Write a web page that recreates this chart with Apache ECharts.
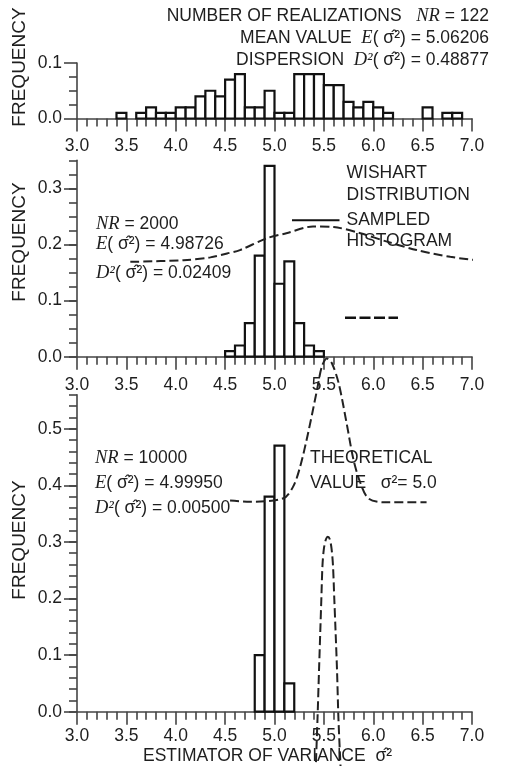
<!DOCTYPE html>
<html>
<head>
<meta charset="utf-8">
<script src="https://cdn.jsdelivr.net/npm/echarts@6/dist/echarts.min.js"></script>
<style>
  html, body { margin: 0; padding: 0; background: #fff; }
  #chart { width: 520px; height: 766px; }
</style>
</head>
<body>
<div id="chart"></div>
<script>
// histogram bins (left edge of each 0.1 wide bin) and frequencies
const binWidth = 0.1
const topBins = [3.4, 3.5, 3.6, 3.7, 3.8, 3.9, 4.0, 4.1, 4.2, 4.3, 4.4, 4.5, 4.6, 4.7, 4.8, 4.9, 5.0, 5.1,
  5.2, 5.3, 5.4, 5.5, 5.6, 5.7, 5.8, 5.9, 6.0, 6.1, 6.2, 6.3, 6.4, 6.5, 6.6, 6.7, 6.8]
const topFreq = [0.01, 0, 0.01, 0.02, 0.01, 0.01, 0.02, 0.02, 0.04, 0.05, 0.04, 0.07, 0.08, 0.02, 0.02, 0.05, 0.01, 0.01,
  0.08, 0.08, 0.08, 0.06, 0.06, 0.03, 0.02, 0.03, 0.02, 0.01, 0, 0, 0, 0.02, 0, 0.01, 0.01]
const midBins = [4.5, 4.6, 4.7, 4.8, 4.9, 5.0, 5.1, 5.2, 5.3, 5.4]
const midFreq = [0.01, 0.02, 0.06, 0.18, 0.34, 0.13, 0.17, 0.06, 0.02, 0.01]
const botBins = [4.8, 4.9, 5.0, 5.1]
const botFreq = [0.10, 0.38, 0.47, 0.05]

// dashed curves
const wishartX = [3.54, 4.08, 4.35, 4.52, 4.65, 4.92, 5.12, 5.39, 5.60, 5.87, 6.14, 6.44, 6.78, 7.11, 7.45]
const wishartY = [0.169, 0.172, 0.177, 0.184, 0.190, 0.211, 0.220, 0.232, 0.231, 0.220, 0.205, 0.190, 0.178, 0.171, 0.169]
const theoX = [4.55, 4.75, 5.09, 5.19, 5.26, 5.34, 5.43, 5.48, 5.53, 5.58, 5.65, 5.73, 5.80, 5.87, 5.95, 6.10, 6.54]
const theoY = [0.373, 0.371, 0.377, 0.398, 0.433, 0.492, 0.568, 0.610, 0.624, 0.616, 0.580, 0.510, 0.445, 0.404, 0.377, 0.370, 0.370]
const spikeX = [5.415, 5.435, 5.451, 5.464, 5.474, 5.486, 5.501, 5.522, 5.540, 5.559, 5.577, 5.592, 5.606, 5.618, 5.633, 5.648, 5.673]
const spikeY = [-0.112, -0.015, 0.074, 0.144, 0.197, 0.259, 0.289, 0.305, 0.309, 0.305, 0.289, 0.259, 0.197, 0.144, 0.074, -0.015, -0.112]

const xTicks = { min: 3, max: 7, interval: 0.5 }

const ink = '#1e1e1e'
const axisColor = '#444'
const sans = 'Liberation Sans'
const serif = 'Liberation Serif'
const fs = 17.5

const chart = echarts.init(document.getElementById('chart'))

const pairs = (xs, ys) => xs.map((x, i) => [x, ys[i]])

const xAxisFor = (gridIndex, show, margin) => ({
  type: 'value', gridIndex, min: xTicks.min, max: xTicks.max, interval: xTicks.interval,
  show,
  axisLine: { lineStyle: { color: axisColor, width: 1.6 } },
  axisTick: { length: 13, lineStyle: { color: axisColor, width: 1.6 } },
  minorTick: { show: true, splitNumber: 5, length: 8, lineStyle: { color: axisColor, width: 1.6 } },
  splitLine: { show: false },
  axisLabel: { margin: margin || 15, fontSize: fs, fontFamily: sans, color: ink, formatter: v => v.toFixed(1) }
})

// short ticks + axis line
const yMinor = (gridIndex, max, step) => ({
  type: 'value', gridIndex, min: 0, max, interval: step,
  axisLine: { show: true, lineStyle: { color: axisColor, width: 1.6 } },
  axisTick: { length: 8, lineStyle: { color: axisColor, width: 1.6 } },
  axisLabel: { show: false },
  splitLine: { show: false }
})
// long ticks + labels
const yMajor = (gridIndex, max) => ({
  type: 'value', gridIndex, min: 0, max, interval: 0.1,
  axisLine: { show: false },
  axisTick: { length: 13, lineStyle: { color: axisColor, width: 1.6 } },
  axisLabel: { margin: 15, fontSize: fs, fontFamily: sans, color: ink, formatter: v => v.toFixed(1) },
  splitLine: { show: false }
})

const histSeries = (idx, bins, freq) => ({
  type: 'custom', xAxisIndex: idx, yAxisIndex: idx, z: 3,
  data: pairs(bins, freq),
  renderItem: (params, api) => {
    const x0 = api.value(0), f = api.value(1)
    if (!f) return null
    const a = api.coord([x0, 0])
    const b = api.coord([x0 + binWidth, f])
    return {
      type: 'rect',
      shape: { x: a[0], y: b[1], width: b[0] - a[0], height: a[1] - b[1] },
      style: { fill: '#fff', stroke: '#111', lineWidth: 2.2 }
    }
  }
})

const dashed = (idx, xs, ys) => ({
  type: 'line', xAxisIndex: idx, yAxisIndex: idx, z: 4,
  data: pairs(xs, ys), smooth: 0.3, showSymbol: false, clip: false,
  lineStyle: { color: '#222', width: 2, type: [9, 4] }
})

const rich = {
  it: { fontFamily: serif, fontStyle: 'italic', fontSize: fs + 1, fill: ink },
  n: { fontFamily: sans, fontSize: fs, fill: ink }
}
const txt = (x, y, text, align) => ({
  type: 'text', x, y, z: 10,
  style: { text, fill: ink, fontFamily: sans, fontSize: fs, textAlign: align || 'left', textVerticalAlign: 'middle', rich }
})
const vtxt = (x, y, text) => ({
  type: 'text', x, y, rotation: Math.PI / 2, z: 10,
  style: { text, fill: ink, fontFamily: sans, fontSize: 19, textAlign: 'center', textVerticalAlign: 'middle' }
})

chart.setOption({
  animation: false,
  grid: [
    { left: 77, top: 63, width: 395, height: 55.5 },
    { left: 77, top: 160.3, width: 395, height: 196.4 },
    { left: 77, top: 188.4, width: 395, height: 168.3 },
    { left: 77, top: 394.7, width: 395, height: 317 },
    { left: 77, top: 428.7, width: 395, height: 283 }
  ],
  xAxis: [xAxisFor(0, true, 19), xAxisFor(1, true, 19), xAxisFor(2, false), xAxisFor(3, true, 15), xAxisFor(4, false)],
  yAxis: [
    {
      type: 'value', gridIndex: 0, min: 0, max: 0.1, interval: 0.1,
      axisLine: { show: true, lineStyle: { color: axisColor, width: 1.6 } },
      axisTick: { length: 13, lineStyle: { color: axisColor, width: 1.6 } },
      minorTick: { show: true, splitNumber: 4, length: 8, lineStyle: { color: axisColor, width: 1.6 } },
      axisLabel: { margin: 15, fontSize: fs, fontFamily: sans, color: ink, formatter: v => v.toFixed(1) },
      splitLine: { show: false }
    },
    yMinor(1, 0.35, 0.025),
    yMajor(2, 0.3),
    yMinor(3, 0.56, 0.02),
    yMajor(4, 0.5)
  ],
  series: [
    histSeries(0, topBins, topFreq),
    histSeries(1, midBins, midFreq),
    histSeries(3, botBins, botFreq),
    dashed(1, wishartX, wishartY),
    dashed(3, theoX, theoY),
    dashed(3, spikeX, spikeY)
  ],
  graphic: [
    txt(489, 16, 'NUMBER OF REALIZATIONS   {it|NR} = 122', 'right'),
    txt(489, 38, 'MEAN VALUE  {it|E}( σ̂²) = 5.06206', 'right'),
    txt(489, 60, 'DISPERSION  {it|D²}( σ̂²) = 0.48877', 'right'),
    txt(96, 224.5, '{it|NR} = 2000'),
    txt(96, 244.5, '{it|E}( σ̂²) = 4.98726'),
    txt(96, 273, '{it|D²}( σ̂²) = 0.02409'),
    txt(346.5, 173, 'WISHART'),
    txt(346.5, 195, 'DISTRIBUTION'),
    txt(346.5, 220, 'SAMPLED'),
    txt(346.5, 241, 'HISTOGRAM'),
    txt(95, 458, '{it|NR} = 10000'),
    txt(95, 483.5, '{it|E}( σ̂²) = 4.99950'),
    txt(95, 508.5, '{it|D²}( σ̂²) = 0.00500'),
    txt(310, 458.5, 'THEORETICAL'),
    txt(310, 483.5, 'VALUE   σ²= 5.0'),
    txt(143, 756.5, 'ESTIMATOR OF VARIANCE  σ̂²'),
    vtxt(20, 67, 'FREQUENCY'),
    vtxt(20, 242, 'FREQUENCY'),
    vtxt(20, 540, 'FREQUENCY'),
    {
      type: 'line', z: 10,
      shape: { x1: 292, y1: 220.3, x2: 339.5, y2: 220.3 },
      style: { stroke: '#111', lineWidth: 2 }
    },
    {
      type: 'line', z: 10,
      shape: { x1: 345, y1: 317.7, x2: 398, y2: 317.7 },
      style: { stroke: '#111', lineWidth: 2.5, lineDash: [11, 3.5] }
    }
  ]
})

window.addEventListener('resize', () => chart.resize())
</script>
</body>
</html>
